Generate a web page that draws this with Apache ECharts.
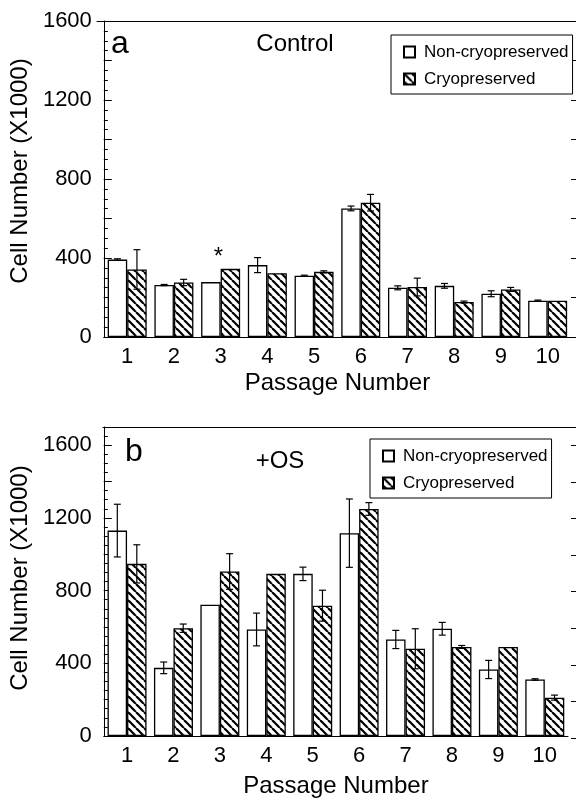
<!DOCTYPE html>
<html>
<head>
<meta charset="utf-8">
<script src="https://cdn.jsdelivr.net/npm/echarts@6/dist/echarts.min.js"></script>
<style>html,body{margin:0;padding:0;background:#fff;}#c{width:576px;height:799px;}</style>
</head>
<body>
<div id="c"></div>
<script>
// ---------- data ----------
const categories = ['1','2','3','4','5','6','7','8','9','10'];
const seriesNames = ['Non-cryopreserved','Cryopreserved'];
// panel a: Control
const controlNon     = [392, 263, 278, 364, 310, 651, 249, 259, 219, 184];
const controlNonErr  = [4,   3,   0,   38,  3,   12,  10,  12,  15,  3];
const controlCryo    = [342, 276, 345, 323, 330, 680, 253, 177, 241, 184];
const controlCryoErr = [100, 16,  0,   0,   5,   42,  45,  5,   10,  0];
const controlStar = ['', '', '*', '', '', '', '', '', '', ''];
// panel b: +OS
const osNon     = [1130, 375, 722, 586, 892, 1116, 531, 590, 366, 311];
const osNonErr  = [145,  32,  0,   90,  37,  188,  50,  35,  50,  4];
const osCryo    = [947,  593, 905, 892, 717, 1249, 480, 490, 490, 211];
const osCryoErr = [105,  23,  98,  0,   85,  35,   110, 8,   0,   14];
// axes
const yTickLabels = [0, 400, 800, 1200, 1600];
const yMaxA = 1600, yMaxB = 1700;

// ---------- style ----------
const FONT = "'Liberation Sans', Arial, Helvetica, sans-serif";
const BAR_W = 19.5;
function hatch() {
  const c = document.createElement('canvas');
  c.width = 8; c.height = 8;
  const g = c.getContext('2d');
  g.fillStyle = '#fff'; g.fillRect(0, 0, 8, 8);
  g.strokeStyle = '#000'; g.lineWidth = 2.2;
  for (const k of [-8, 0, 8]) { g.beginPath(); g.moveTo(k, 0); g.lineTo(k + 8, 8); g.stroke(); }
  return c;
}
const hatchImg = hatch();
const nonStyle = { color: '#fff', borderColor: '#000', borderWidth: 1.3 };
const cryoStyle = { color: { image: hatchImg, repeat: 'repeat' }, borderColor: '#000', borderWidth: 1.3 };

function errData(vals, errs, side) {
  return vals.map((v, i) => [i, v, errs[i], side]);
}
function errRender(params, api) {
  const i = api.value(0), v = api.value(1), e = api.value(2), side = api.value(3);
  if (!e) return null;
  const off = side * BAR_W / 2;
  const t = api.coord([i, v + e]);
  const b = api.coord([i, v - e]);
  const x = t[0] + off;
  const s = { stroke: '#000', lineWidth: 1.2 };
  return { type: 'group', children: [
    { type: 'line', shape: { x1: x, y1: t[1], x2: x, y2: b[1] }, style: s },
    { type: 'line', shape: { x1: x - 3.5, y1: t[1], x2: x + 3.5, y2: t[1] }, style: s },
    { type: 'line', shape: { x1: x - 3.5, y1: b[1], x2: x + 3.5, y2: b[1] }, style: s }
  ]};
}

const G = [
  { left: 97, top: 21, width: 474, height: 316 },
  { left: 97, top: 21, width: 480, height: 316 },
  { left: 103, top: 427, width: 465, height: 311 },
  { left: 103, top: 427, width: 474, height: 311 }
];

function catAxis(gi, gap) {
  return {
    type: 'category', gridIndex: gi, data: categories, boundaryGap: true,
    axisLine: { onZero: false, lineStyle: { color: '#000', width: 1 } },
    axisTick: { inside: true, length: 8, lineStyle: { color: '#000' } },
    axisLabel: { color: '#000', fontSize: 22, fontFamily: FONT, margin: 9 },
    name: 'Passage Number', nameLocation: 'middle', nameGap: gap,
    nameTextStyle: { color: '#000', fontSize: 24, fontFamily: FONT },
    splitLine: { show: false }
  };
}
function topX(gi) {
  return { type: 'value', gridIndex: gi, position: 'top', min: 0, max: 1,
    axisLine: { show: true, onZero: false, lineStyle: { color: '#000', width: 1 } },
    axisTick: { show: false }, axisLabel: { show: false }, splitLine: { show: false } };
}
function majorY(gi, max, gap, pad) {
  return {
    type: 'value', gridIndex: gi, position: 'left', min: 0, max: max, interval: 200,
    axisLine: { show: true, onZero: false, lineStyle: { color: '#000', width: 1 } },
    axisTick: { show: true, inside: true, length: 8, lineStyle: { color: '#000' } },
    axisLabel: { color: '#000', fontSize: 22, fontFamily: FONT, margin: 12,
      formatter: v => yTickLabels.indexOf(v) >= 0 ? String(v) : '' },
    splitLine: { show: false },
    name: 'Cell Number (X1000)', nameLocation: 'middle', nameGap: gap, nameRotate: 90,
    nameTextStyle: { color: '#000', fontSize: 24, fontFamily: FONT, padding: [0, 0, 0, pad] }
  };
}
function minorY(gi, max) {
  return {
    type: 'value', gridIndex: gi, position: 'left', min: 0, max: max, interval: 50,
    axisLine: { show: false, onZero: false }, axisLabel: { show: false }, splitLine: { show: false },
    axisTick: { show: true, inside: true, length: 4, lineStyle: { color: '#000' } }
  };
}
function rightY(gi, max) {
  return {
    type: 'value', gridIndex: gi, position: 'right', min: 0, max: max, interval: 200,
    axisLine: { show: false, onZero: false }, axisLabel: { show: false }, splitLine: { show: false },
    axisTick: { show: true, inside: true, length: 5, lineStyle: { color: '#000' } }
  };
}

function legendAt(left, top) {
  return {
    orient: 'vertical', left: left, top: top, data: seriesNames,
    icon: 'rect', itemWidth: 11, itemHeight: 11, itemGap: 9,
    padding: [8, 4, 6, 12], borderColor: '#000', borderWidth: 1, backgroundColor: '#fff',
    selectedMode: false,
    textStyle: { color: '#000', fontSize: 17, fontFamily: FONT, lineHeight: 18, padding: [0, 0, 0, 4] }
  };
}

const cryoA = controlCryo.map((v, i) => controlStar[i] ? {
  value: v,
  label: { show: true, position: 'top', formatter: controlStar[i], offset: [-12, 6],
           color: '#000', fontSize: 24, fontFamily: FONT }
} : v);

const option = {
  animation: false,
  backgroundColor: '#fff',
  textStyle: { fontFamily: FONT },
  grid: G,
  xAxis: [catAxis(0, 34), topX(1), catAxis(2, 38), topX(3)],
  yAxis: [majorY(0, yMaxA, 64, 16), minorY(0, yMaxA), rightY(1, yMaxA),
          majorY(2, yMaxB, 70, 7), minorY(2, yMaxB), rightY(3, yMaxB)],
  legend: [legendAt(391, 35), legendAt(370, 439)],
  graphic: [
    { type: 'text', x: 111, y: 44, style: { text: 'a', fontSize: 32, fontFamily: FONT, fill: '#000', align: 'left', verticalAlign: 'middle' } },
    { type: 'text', x: 295, y: 44, style: { text: 'Control', fontSize: 24, fontFamily: FONT, fill: '#000', align: 'center', verticalAlign: 'middle' } },
    { type: 'text', x: 125, y: 452, style: { text: 'b', fontSize: 32, fontFamily: FONT, fill: '#000', align: 'left', verticalAlign: 'middle' } },
    { type: 'text', x: 280, y: 461, style: { text: '+OS', fontSize: 24, fontFamily: FONT, fill: '#000', align: 'center', verticalAlign: 'middle' } }
  ],
  series: [
    { name: seriesNames[0], type: 'bar', xAxisIndex: 0, yAxisIndex: 0, barWidth: BAR_W, barGap: '0%', itemStyle: nonStyle, data: controlNon },
    { name: seriesNames[1], type: 'bar', xAxisIndex: 0, yAxisIndex: 0, barWidth: BAR_W, barGap: '0%', itemStyle: cryoStyle, data: cryoA },
    { type: 'custom', xAxisIndex: 0, yAxisIndex: 0, z: 5, renderItem: errRender, encode: { x: 0, y: 1 }, data: errData(controlNon, controlNonErr, -1) },
    { type: 'custom', xAxisIndex: 0, yAxisIndex: 0, z: 5, renderItem: errRender, encode: { x: 0, y: 1 }, data: errData(controlCryo, controlCryoErr, 1) },
    { name: seriesNames[0], type: 'bar', xAxisIndex: 2, yAxisIndex: 3, barWidth: BAR_W, barGap: '0%', itemStyle: nonStyle, data: osNon },
    { name: seriesNames[1], type: 'bar', xAxisIndex: 2, yAxisIndex: 3, barWidth: BAR_W, barGap: '0%', itemStyle: cryoStyle, data: osCryo },
    { type: 'custom', xAxisIndex: 2, yAxisIndex: 3, z: 5, renderItem: errRender, encode: { x: 0, y: 1 }, data: errData(osNon, osNonErr, -1) },
    { type: 'custom', xAxisIndex: 2, yAxisIndex: 3, z: 5, renderItem: errRender, encode: { x: 0, y: 1 }, data: errData(osCryo, osCryoErr, 1) }
  ]
};
const chart = echarts.init(document.getElementById('c'), null, { renderer: 'canvas' });
chart.setOption(option);
</script>
</body>
</html>
